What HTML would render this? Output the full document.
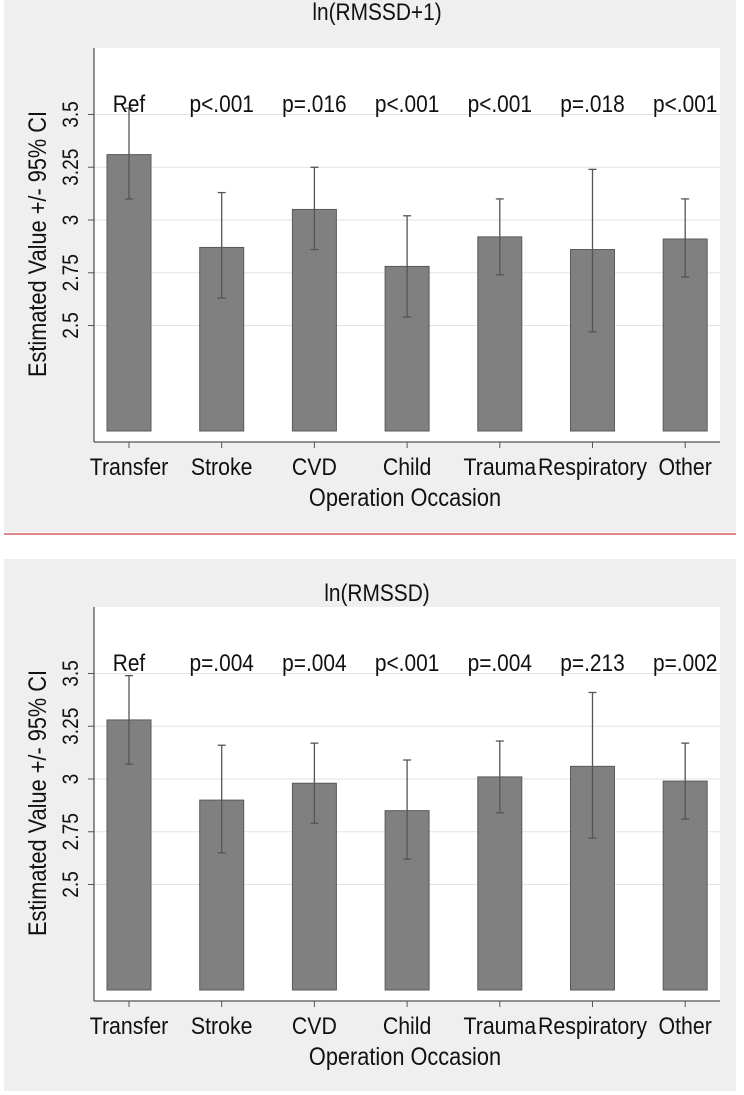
<!DOCTYPE html>
<html><head><meta charset="utf-8"><style>
html,body{margin:0;padding:0;background:#fff;}
svg{display:block;font-family:"Liberation Sans",sans-serif;}
</style></head><body>
<svg id="c" width="744" height="1095" xmlns="http://www.w3.org/2000/svg"></svg>
<script>
const categories = ["Transfer","Stroke","CVD","Child","Trauma","Respiratory","Other"];
const yTicks = [2.5,2.75,3,3.25,3.5];
const yTickLabels = ["2.5","2.75","3","3.25","3.5"];
const titles = ["ln(RMSSD+1)","ln(RMSSD)"];
const est1 = [3.31,2.87,3.05,2.78,2.92,2.86,2.91];
const lo1 = [3.10,2.63,2.86,2.54,2.74,2.47,2.73];
const hi1 = [3.53,3.13,3.25,3.02,3.10,3.24,3.10];
const p1 = ["Ref","p<.001","p=.016","p<.001","p<.001","p=.018","p<.001"];
const est2 = [3.28,2.90,2.98,2.85,3.01,3.06,2.99];
const lo2 = [3.07,2.65,2.79,2.62,2.84,2.72,2.81];
const hi2 = [3.49,3.16,3.17,3.09,3.18,3.41,3.17];
const p2 = ["Ref","p=.004","p=.004","p<.001","p=.004","p=.213","p=.002"];

const NS="http://www.w3.org/2000/svg";
const svg=document.getElementById('c');
const SX=0.87;
function mk(t,a,txt){const e=document.createElementNS(NS,t);for(const k in a)e.setAttribute(k,a[k]);if(txt!==undefined)e.textContent=txt;svg.appendChild(e);return e;}
function txt(px,py,size,s,rot){
  const tr=rot?`translate(${px},${py}) rotate(-90) scale(${SX},1)`:`translate(${px},${py}) scale(${SX},1)`;
  return mk('text',{x:0,y:0,'font-size':size,'text-anchor':'middle',fill:'#111',transform:tr},s);
}

function panel(off,title,est,lo,hi,pv,idx){
  const y=v=>off+220-(v-3)*211;
  const x=i=>129+i*92.7;
  let e;
  e=mk('rect',{x:4,y:idx?off:0,width:732,height:532,fill:'#efefef'});
  
  
  e=mk('rect',{x:94,y:off+48,width:626,height:394,fill:'#fff'});
  
  
  e=txt(377,idx?off+42:20,24,title,false);
  
  
  yTicks.forEach((t,i)=>{
    e=mk('line',{x1:94,x2:720,y1:y(t),y2:y(t),stroke:'#e3e3e3','stroke-width':1});
    
    
    mk('line',{x1:88,x2:94,y1:y(t),y2:y(t),stroke:'#555'});
    e=txt(78,y(t),22,yTickLabels[i],true);
    
    
  });
  e=txt(46,off+244,25,'Estimated Value +/- 95% CI',true);
  
  
  categories.forEach((c,i)=>{
    const cx=x(i);
    e=mk('rect',{x:cx-22,y:y(est[i]),width:44,height:y(2)-y(est[i]),fill:'#808080',stroke:'#5a5a5a','stroke-width':1});
    
    
    e=mk('line',{x1:cx,x2:cx,y1:y(hi[i]),y2:y(lo[i]),stroke:'#555','stroke-width':1.3});
    
    
    mk('line',{x1:cx-4,x2:cx+4,y1:y(hi[i]),y2:y(hi[i]),stroke:'#555','stroke-width':1.3});
    mk('line',{x1:cx-4,x2:cx+4,y1:y(lo[i]),y2:y(lo[i]),stroke:'#555','stroke-width':1.3});
    e=txt(cx,off+112,24,pv[i],false);
    
    
    mk('line',{x1:cx,x2:cx,y1:off+442,y2:off+448,stroke:'#555'});
    e=txt(cx,off+475,24.5,c,false);
    
    
  });
  e=mk('line',{x1:94,x2:94,y1:off+48,y2:off+442,stroke:'#555','stroke-width':1.3});
  
  
  e=mk('line',{x1:94,x2:720,y1:off+442,y2:off+442,stroke:'#555','stroke-width':1.3});
  
  
  e=txt(405,off+506,25,'Operation Occasion',false);
  
  
}
panel(0,titles[0],est1,lo1,hi1,p1,0);
const sep=mk('rect',{x:4,y:533,width:732,height:2,fill:'#e0898d'});


panel(559,titles[1],est2,lo2,hi2,p2,1);
</script>
</body></html>
